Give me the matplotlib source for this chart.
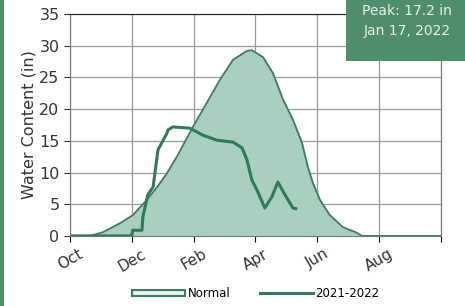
import matplotlib.pyplot as plt
from matplotlib.patches import Rectangle

# months since Oct 1
normal_m = [0, 0.65, 1.07, 1.62, 2.04, 2.49, 2.82, 3.14, 3.46, 3.98, 4.43, 4.85, 5.28, 5.73,
            5.89, 6.25, 6.57, 6.89, 7.22, 7.51, 7.70, 7.86, 8.09, 8.41, 8.83, 9.29, 9.45, 12]
normal_v = [0, 0, 0.6, 2.0, 3.3, 5.7, 7.7, 9.9, 12.5, 17.2, 21.0, 24.6, 27.8, 29.2,
            29.3, 28.2, 25.7, 21.6, 18.3, 14.7, 10.9, 8.4, 5.7, 3.3, 1.4, 0.5, 0, 0]

wy_m = [0, 2.0, 2.03, 2.33, 2.36, 2.52, 2.69, 2.85, 3.14, 3.17, 3.33, 3.88, 4.30, 4.76, 5.28,
        5.57, 5.73, 5.89, 6.05, 6.31, 6.54, 6.73, 6.96, 7.22, 7.31]
wy_v = [0, 0, 0.9, 0.9, 3.0, 6.5, 7.7, 13.6, 16.2, 16.7, 17.2, 17.0, 15.9, 15.1, 14.8,
        13.9, 12.0, 8.8, 7.3, 4.4, 6.2, 8.5, 6.5, 4.4, 4.3]

tick_pos = [0, 2, 4, 6, 8, 10, 12]
tick_labels = ["Oct", "Dec", "Feb", "Apr", "Jun", "Aug", ""]

fig = plt.figure(figsize=(4.65, 3.06), dpi=100)
ax = fig.add_axes([0.1505, 0.229, 0.797, 0.725])

ax.fill_between(normal_m, normal_v, color="#a9cfc1", zorder=2)
ax.plot(normal_m, normal_v, color="#3f7d61", lw=1.3, zorder=3)
ax.plot(wy_m, wy_v, color="#2f7a57", lw=2.2, zorder=4)

ax.set_xlim(0, 12)
ax.set_ylim(0, 35)
ax.set_yticks(range(0, 36, 5))
ax.set_xticks(tick_pos)
ax.set_xticklabels(tick_labels, rotation=30, fontsize=11, color="#333333")
ax.tick_params(axis="y", labelsize=11.5, colors="#333333", length=4)
ax.tick_params(axis="x", length=4)
ax.grid(True, color="#9a9a9a", lw=0.9, zorder=1)
ax.set_axisbelow(True)
for s in ax.spines.values():
    s.set_color("#777777")
ax.spines["top"].set_color("#222222")
ax.set_ylabel("Water Content (in)", fontsize=11.5, color="#333333", labelpad=2)

# legend
h1 = Rectangle((0, 0), 1, 1, facecolor="#e9f2ee", edgecolor="#3f7d61", lw=1.5)
h2, = ax.plot([], [], color="#2f7a57", lw=2.2)
fig.legend([h1, h2], ["Normal", "2021-2022"], loc="center", bbox_to_anchor=(0.55, 0.04),
           ncol=2, frameon=False, fontsize=8.5, handlelength=4.5, handleheight=0.5,
           columnspacing=2.5, handletextpad=0.2)

# peak box
fig.patches.append(Rectangle((0.745, 0.80), 0.26, 0.22, transform=fig.transFigure,
                             facecolor="#4f8d6b", edgecolor="none", zorder=5))
fig.text(0.875, 0.965, "Peak: 17.2 in", ha="center", va="center", color="#e8f2ec",
         fontsize=10, zorder=6)
fig.text(0.875, 0.898, "Jan 17, 2022", ha="center", va="center", color="#e8f2ec",
         fontsize=10, zorder=6)

# left frame strip
fig.patches.append(Rectangle((0, 0), 0.008, 1, transform=fig.transFigure,
                             facecolor="#4f8d6b", edgecolor="none"))

fig.savefig("out.png", dpi=100)
